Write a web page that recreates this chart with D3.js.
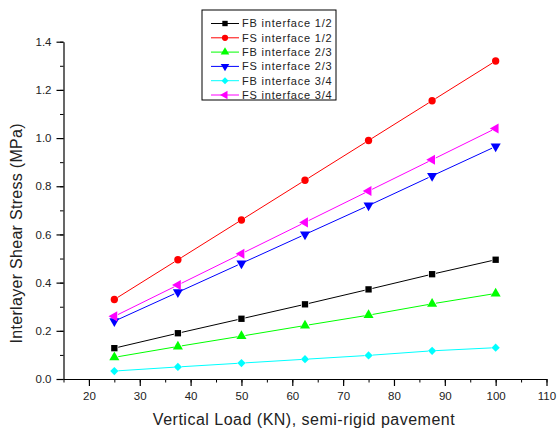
<!DOCTYPE html>
<html>
<head>
<meta charset="utf-8">
<script src="https://cdn.jsdelivr.net/npm/d3@7"></script>
<style>
  body { margin: 0; background: #fff; }
  text { font-family: "Liberation Sans", Arial, sans-serif; fill: #222; }
</style>
</head>
<body>
<div id="chart"></div>
<script>
// data
const loads = [25, 37.5, 50, 62.5, 75, 87.5, 100];
const fbHalf = [0.128, 0.19, 0.25, 0.31, 0.372, 0.435, 0.495];
const fsHalf = [0.33, 0.495, 0.66, 0.825, 0.99, 1.155, 1.32];
const fbTwoThirds = [0.09, 0.135, 0.178, 0.222, 0.265, 0.312, 0.355];
const fsTwoThirds = [0.24, 0.36, 0.48, 0.60, 0.72, 0.843, 0.965];
const fbThreeQuarters = [0.033, 0.05, 0.066, 0.082, 0.098, 0.117, 0.13];
const fsThreeQuarters = [0.26, 0.39, 0.52, 0.65, 0.78, 0.91, 1.04];

const seriesNames = ["FB interface 1/2", "FS interface 1/2", "FB interface 2/3",
                     "FS interface 2/3", "FB interface 3/4", "FS interface 3/4"];
const seriesValues = [fbHalf, fsHalf, fbTwoThirds, fsTwoThirds, fbThreeQuarters, fsThreeQuarters];
const colors = ["#000000", "#ff0000", "#00ff00", "#0000ff", "#00ffff", "#ff00ff"];
const xTicks = [20, 30, 40, 50, 60, 70, 80, 90, 100, 110];
const yTicks = [0, 0.2, 0.4, 0.6, 0.8, 1.0, 1.2, 1.4];

const W = 557, H = 430;
const margin = {top: 41.7, right: 10.5, bottom: 51, left: 63.5};
const width = W - margin.left - margin.right;
const height = H - margin.top - margin.bottom;

const svg = d3.select("#chart").append("svg")
  .attr("width", W).attr("height", H);
const g = svg.append("g")
  .attr("transform", `translate(${margin.left},${margin.top})`);

const x = d3.scaleLinear().domain([15, 110]).range([0, width]);
const y = d3.scaleLinear().domain([0, 1.4]).range([height, 0]);

// minor ticks
g.append("g")
  .attr("transform", `translate(0,${height})`)
  .call(d3.axisBottom(x).tickValues(d3.range(15, 111, 5)).tickSize(3.5).tickFormat(""))
  .call(a => a.select(".domain").remove());
g.append("g")
  .call(d3.axisLeft(y).tickValues(d3.range(0, 1.41, 0.1)).tickSize(3.5).tickFormat(""))
  .call(a => a.select(".domain").remove());

// major axes
const xAxis = g.append("g")
  .attr("transform", `translate(0,${height})`)
  .call(d3.axisBottom(x).tickValues(xTicks).tickSize(7).tickPadding(6).tickSizeOuter(0));
const yAxis = g.append("g")
  .call(d3.axisLeft(y).tickValues(yTicks).tickSize(7).tickPadding(5).tickSizeOuter(0)
    .tickFormat(d3.format(".1f")));

[xAxis, yAxis].forEach(a => {
  a.selectAll("text").style("font-size", "11.5px").attr("fill", "#222");
  a.selectAll("line, path").attr("stroke", "#000").attr("stroke-width", 1.2);
});
g.selectAll(".tick line").attr("stroke", "#000");

// axis titles
svg.append("text")
  .attr("x", margin.left + x(62.5) - 1).attr("y", 425)
  .attr("text-anchor", "middle").style("font-size", "16px").style("letter-spacing", "0.5px")
  .text("Vertical Load (KN), semi-rigid pavement");
svg.append("text")
  .attr("transform", `translate(22,${margin.top + y(0.8) + 47}) rotate(-90)`)
  .attr("text-anchor", "middle").style("font-size", "16px").style("letter-spacing", "0.3px")
  .text("Interlayer Shear Stress (MPa)");

// marker shapes
const symbols = [
  d3.symbol().type(d3.symbolSquare).size(40),
  d3.symbol().type(d3.symbolCircle).size(42),
  d3.symbol().type(d3.symbolTriangle).size(44),
  d3.symbol().type(d3.symbolTriangle).size(44),
  d3.symbol().type(d3.symbolSquare).size(34),
  d3.symbol().type(d3.symbolTriangle).size(44)
];
const rotations = [0, 0, 0, 180, 45, -90];

const gap = 4;
seriesValues.forEach((vals, i) => {
  const pts = loads.map((l, j) => [x(l), y(vals[j])]);
  const segs = d3.pairs(pts).map(([a, b]) => {
    const dx = b[0] - a[0], dy = b[1] - a[1], len = Math.hypot(dx, dy);
    const ux = dx / len, uy = dy / len;
    return [a[0] + ux * gap, a[1] + uy * gap, b[0] - ux * gap, b[1] - uy * gap];
  });
  g.append("g").selectAll("line").data(segs).join("line")
    .attr("x1", d => d[0]).attr("y1", d => d[1])
    .attr("x2", d => d[2]).attr("y2", d => d[3])
    .attr("stroke", colors[i]).attr("stroke-width", 1);
  g.append("g").selectAll("path").data(pts).join("path")
    .attr("d", symbols[i])
    .attr("transform", d => `translate(${d[0]},${d[1]}) rotate(${rotations[i]})`)
    .attr("fill", colors[i]);
});

// legend
const legend = svg.append("g").attr("transform", "translate(202,10)");
legend.append("rect")
  .attr("width", 134).attr("height", 90)
  .attr("fill", "#fff").attr("stroke", "#000").attr("stroke-width", 1);
seriesNames.forEach((name, i) => {
  const row = legend.append("g").attr("transform", `translate(0,${13.5 + i * 14.3})`);
  row.append("line").attr("x1", 9).attr("x2", 37)
    .attr("stroke", colors[i]).attr("stroke-width", 1);
  row.append("path").attr("d", symbols[i])
    .attr("transform", `translate(23,0) rotate(${rotations[i]}) scale(0.85)`)
    .attr("fill", colors[i]);
  row.append("text").attr("x", 40).attr("dy", "0.35em")
    .style("font-size", "11px").style("letter-spacing", "0.8px")
    .text(name);
});
</script>
</body>
</html>
